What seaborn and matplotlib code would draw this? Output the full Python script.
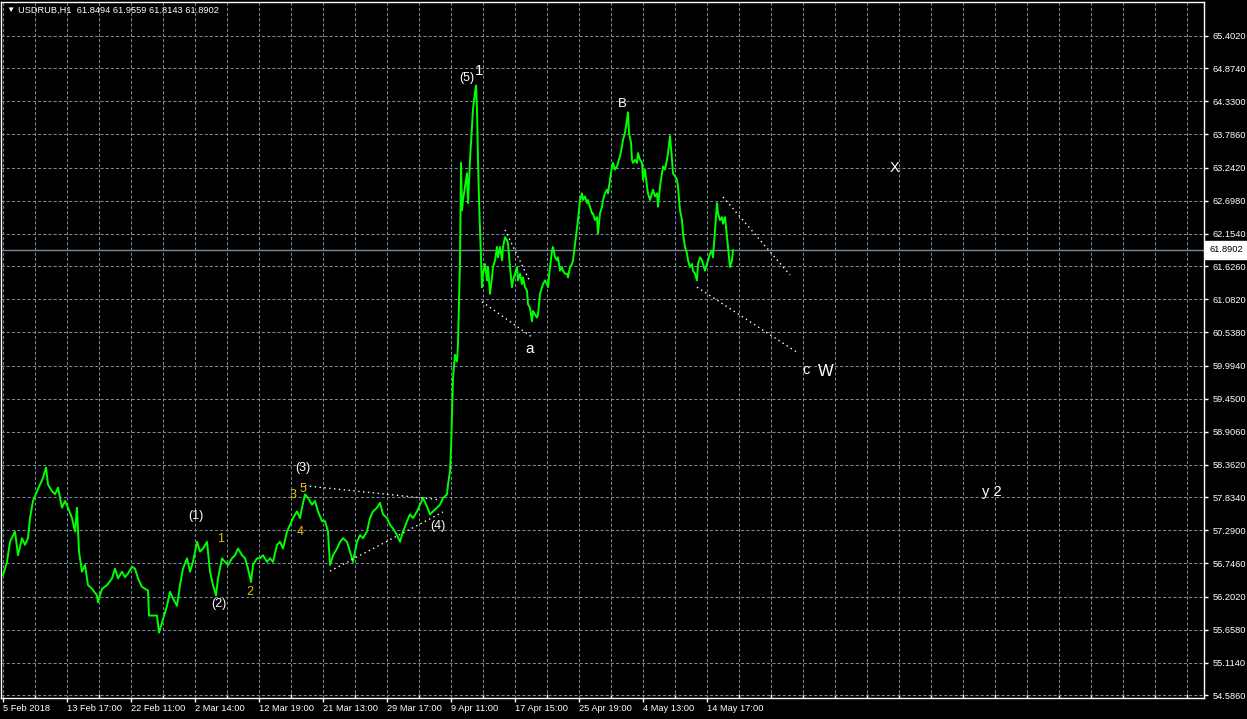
import pandas as pd
import seaborn as sns
import matplotlib.pyplot as plt
import matplotlib.transforms as mtransforms
from matplotlib.ticker import FixedLocator

# --- data (hourly bar index, close price) ---
bar_index = [
    0, 4, 7, 12, 15, 19, 22, 25, 27, 30, 34, 37, 40, 43, 45, 49, 52, 55, 59, 62,
    65, 69, 72, 74, 76, 79, 82, 85, 89, 94, 95, 99, 104, 109, 112, 115, 119, 122, 125, 129,
    132, 135, 139, 142, 145, 146, 150, 154, 156, 160, 164, 167, 170, 174, 177, 180, 184, 187, 190, 194,
    197, 200, 204, 207, 210, 213, 215, 219, 222, 225, 229, 232, 235, 239, 242, 245, 248, 250, 254, 257,
    260, 264, 267, 270, 274, 277, 280, 284, 287, 290, 294, 297, 299, 302, 305, 309, 312, 315, 319, 322,
    325, 327, 330, 334, 337, 340, 344, 347, 350, 354, 357, 360, 364, 367, 370, 374, 377, 380, 384, 387,
    390, 394, 397, 400, 404, 407, 410, 414, 417, 420, 424, 427, 430, 434, 437, 440, 444, 445, 447, 448,
    450, 452, 454, 455, 457, 458, 459, 460, 462, 464, 465, 467, 469, 470, 472, 473, 474, 475, 476, 478,
    479, 480, 482, 484, 485, 487, 489, 490, 492, 494, 495, 497, 499, 500, 502, 504, 505, 507, 509, 510,
    512, 514, 515, 517, 519, 520, 522, 524, 525, 527, 529, 530, 532, 534, 535, 537, 539, 540, 542, 544,
    545, 547, 549, 550, 552, 554, 555, 557, 559, 560, 562, 564, 565, 567, 569, 570, 572, 574, 575, 577,
    579, 580, 582, 584, 585, 587, 589, 590, 592, 594, 595, 597, 599, 600, 602, 604, 605, 607, 609, 610,
    612, 614, 615, 617, 619, 620, 622, 624, 625, 626, 628, 629, 630, 632, 634, 635, 637, 639, 640, 642,
    644, 645, 647, 649, 650, 652, 654, 655, 657, 659, 660, 662, 664, 665, 667, 669, 670, 672, 674, 675,
    677, 679, 680, 682, 684, 685, 687, 689, 690, 692, 694, 695, 697, 699, 700, 702, 704, 705, 707, 709,
    710, 712, 714, 715, 717, 719, 720, 722, 724, 725, 727, 729, 730,
]
close = [
    56.55, 56.77, 57.10, 57.27, 56.88, 57.16, 57.05, 57.16, 57.49, 57.77, 57.93, 58.04, 58.15, 58.32, 58.04, 57.93, 57.88, 57.99, 57.66, 57.77,
    57.66, 57.49, 57.27, 57.66, 56.94, 56.61, 56.72, 56.39, 56.33, 56.22, 56.11, 56.33, 56.39, 56.50, 56.66, 56.50, 56.61, 56.52, 56.58, 56.69,
    56.66, 56.50, 56.36, 56.33, 56.30, 55.89, 55.89, 55.89, 55.61, 55.83, 56.05, 56.28, 56.17, 56.05, 56.39, 56.66, 56.83, 56.61, 56.77, 57.10,
    56.94, 56.99, 57.10, 56.61, 56.39, 56.22, 56.50, 56.83, 56.77, 56.72, 56.83, 56.88, 56.99, 56.88, 56.83, 56.66, 56.44, 56.72, 56.83, 56.83,
    56.88, 56.77, 56.83, 56.77, 57.05, 57.10, 56.99, 57.27, 57.38, 57.49, 57.60, 57.49, 57.66, 57.88, 57.82, 57.71, 57.77, 57.60, 57.44, 57.44,
    57.27, 56.72, 56.88, 56.99, 57.10, 57.16, 57.10, 56.94, 56.77, 57.10, 57.21, 57.16, 57.27, 57.49, 57.60, 57.66, 57.74, 57.55, 57.49, 57.38,
    57.32, 57.21, 57.10, 57.27, 57.44, 57.55, 57.49, 57.60, 57.71, 57.82, 57.68, 57.55, 57.60, 57.66, 57.71, 57.82, 57.88, 58.04, 58.26, 58.61,
    59.78, 60.17, 60.06, 60.34, 61.72, 63.32, 62.54, 62.71, 62.93, 63.15, 62.66, 63.37, 63.92, 64.20, 64.48, 64.59, 64.20, 63.37, 62.71, 61.72,
    61.28, 61.50, 61.66, 61.39, 61.61, 61.17, 61.44, 61.61, 61.72, 61.94, 61.77, 61.94, 61.72, 61.94, 62.10, 62.05, 61.99, 61.61, 61.28, 61.39,
    61.50, 61.61, 61.39, 61.50, 61.33, 61.44, 61.28, 61.22, 61.00, 60.94, 60.72, 60.89, 60.83, 60.78, 60.83, 61.17, 61.28, 61.33, 61.39, 61.33,
    61.28, 61.61, 61.88, 61.94, 61.77, 61.72, 61.77, 61.55, 61.61, 61.55, 61.50, 61.50, 61.44, 61.61, 61.66, 61.72, 61.99, 62.27, 62.38, 62.71,
    62.82, 62.71, 62.77, 62.66, 62.71, 62.60, 62.49, 62.49, 62.38, 62.43, 62.16, 62.49, 62.60, 62.71, 62.82, 62.88, 62.82, 63.04, 63.26, 63.32,
    63.21, 63.26, 63.32, 63.43, 63.59, 63.70, 63.81, 64.04, 64.15, 63.81, 63.65, 63.37, 63.32, 63.37, 63.32, 63.48, 63.37, 63.32, 63.04, 63.21,
    62.93, 62.82, 62.71, 62.82, 62.88, 62.77, 62.82, 62.60, 62.93, 63.15, 63.26, 63.21, 63.37, 63.48, 63.76, 63.37, 63.15, 63.10, 63.04, 62.93,
    62.54, 62.38, 62.16, 61.94, 61.83, 61.72, 61.61, 61.66, 61.55, 61.50, 61.39, 61.66, 61.77, 61.72, 61.66, 61.55, 61.66, 61.72, 61.83, 61.88,
    61.77, 62.21, 62.66, 62.49, 62.38, 62.43, 62.32, 62.43, 62.10, 61.94, 61.61, 61.72, 61.89,
]

price_ticks = [65.4020, 64.8740, 64.3300, 63.7860, 63.2420, 62.6980, 62.1540, 61.6260, 61.0820,
               60.5380, 59.9940, 59.4500, 58.9060, 58.3620, 57.8340, 57.2900, 56.7460, 56.2020,
               55.6580, 55.1140, 54.5860]
date_ticks = [0, 64, 128, 192, 256, 320, 384, 448, 512, 576, 640, 704]
date_labels = ["5 Feb 2018", "13 Feb 17:00", "22 Feb 11:00", "2 Mar 14:00", "12 Mar 19:00",
               "21 Mar 13:00", "29 Mar 17:00", "9 Apr 11:00", "17 Apr 15:00", "25 Apr 19:00",
               "4 May 13:00", "14 May 17:00"]
last_price = 61.8902
header = "USDRUB,H1  61.8494 61.9559 61.8143 61.8902"

# dotted trend lines drawn on the chart: (bar, price) pairs
trend_lines = [
    [(302, 58.02), (437, 57.79)],
    [(327, 56.62), (440, 57.59)],
    [(479, 61.04), (529, 60.46)],
    [(502, 62.22), (527, 61.37)],
    [(720, 62.76), (787, 61.48)],
    [(694, 61.28), (795, 60.20)],
]

# wave marks
wave_text = ["(5)", "1", "B", "a", "c", "W", "X", "y 2", "(3)", "(1)", "(2)", "(4)"]
wave_bar = [464, 476, 619, 527, 803, 823, 892, 989, 300, 193, 216, 435]
wave_price = [64.71, 64.83, 64.29, 60.27, 59.92, 59.90, 63.24, 57.92, 58.31, 57.52, 56.08, 57.36]
wave_size = [9, 11, 9.5, 11, 10.5, 12, 10.5, 10.5, 9, 9, 9, 9]

sub_text = ["1", "2", "3", "5", "4"]
sub_bar = [218, 247, 290, 300, 297]
sub_price = [57.15, 56.28, 57.87, 57.97, 57.26]

grid_color = "#778899"
line_color = "#00ff00"
gold = "#e8c000"
axis_fs = 6.7

sns.set_theme(style="dark", rc={"axes.facecolor": "black", "figure.facecolor": "black"})
plt.rcParams["font.family"] = ["Liberation Sans", "DejaVu Sans"]

fig = plt.figure(figsize=(12.47, 7.19), dpi=100)
ax = fig.add_axes([1 / 1247, 21 / 719, 1203 / 1247, 696 / 719])
ax.set_facecolor("black")

df = pd.DataFrame({"bar": bar_index, "close": close})
sns.lineplot(data=df, x="bar", y="close", color=line_color, linewidth=1.4, ax=ax, zorder=3)

ax.set_xlim(-2, 1201)
ax.set_ylim(54.537, 65.960)

# axes / ticks
ax.yaxis.tick_right()
ax.set_yticks(price_ticks)
ax.set_yticklabels([f"{v:.4f}" for v in price_ticks])
ax.set_xticks(date_ticks)
ax.set_xticklabels(date_labels)
minor = [b for b in range(32, 1201, 32) if b not in date_ticks]
ax.xaxis.set_minor_locator(FixedLocator(minor))
for lbl in ax.get_xticklabels():
    lbl.set_ha("left")

dash = (0, (3, 2))
ax.grid(True, which="both", axis="x", color=grid_color, linestyle=dash, linewidth=0.75)
ax.grid(True, which="major", axis="y", color=grid_color, linestyle=dash, linewidth=0.75)

ax.tick_params(axis="x", which="major", bottom=True, colors="white", direction="out",
               length=3, width=1, pad=1.5, labelsize=axis_fs)
ax.tick_params(axis="x", which="minor", bottom=True, colors="white", direction="in",
               length=3, width=1)
ax.tick_params(axis="y", right=True, left=False, labelright=True, labelleft=False,
               colors="white", direction="out", length=3, width=1, pad=3, labelsize=axis_fs)
ax.set_xlabel("")
ax.set_ylabel("")
for s in ax.spines.values():
    s.set_visible(True)
    s.set_color("white")
    s.set_linewidth(1)

# current price line + label
ax.axhline(last_price, color=grid_color, linewidth=1, zorder=2)
trans = mtransforms.blended_transform_factory(ax.transAxes, ax.transData)
ax.text(1.0042, last_price, f"{last_price:.4f}", transform=trans, ha="left", va="center",
        fontsize=axis_fs, color="black", clip_on=False,
        bbox=dict(boxstyle="square,pad=0.45", fc="white", ec="white"))

# trend lines
for (b0, p0), (b1, p1) in trend_lines:
    ax.plot([b0, b1], [p0, p1], color="white", linewidth=1, linestyle=(0, (1, 2.5)), zorder=4)

# wave labels
for t, b, p, s in zip(wave_text, wave_bar, wave_price, wave_size):
    ax.text(b, p, t, color="white", fontsize=s, ha="center", va="center", zorder=5)
for t, b, p in zip(sub_text, sub_bar, sub_price):
    ax.text(b, p, t, color=gold, fontsize=9, ha="center", va="center", zorder=5)

# header
fig.text(6 / 1247, 1 - 10 / 719, "\u25bc", color="white", fontsize=6, va="center", ha="left")
fig.text(18 / 1247, 1 - 10 / 719, header, color="white", fontsize=axis_fs, va="center", ha="left")

fig.savefig("out.png", dpi=100, facecolor="black")
